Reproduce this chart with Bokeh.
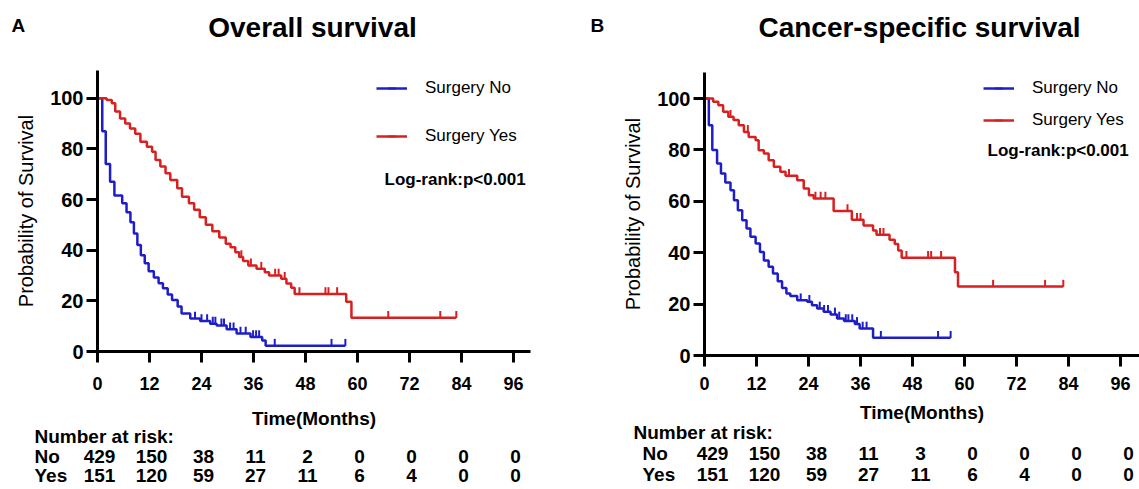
import numpy as np
from bokeh.plotting import figure
from bokeh.models import Range1d, FixedTicker, Legend, LegendItem, Label
from bokeh.layouts import row
from bokeh.embed import file_html
from bokeh.resources import INLINE
from bokeh.core.properties import value

FONT = "Liberation Sans"
BLUE = "#1e1ec8"
RED = "#d82020"
PXM = 52 / 12  # pixels per month

# ---------------- data ----------------
risk_times = [0, 12, 24, 36, 48, 60, 72, 84, 96]
y_ticks = [0, 20, 40, 60, 80, 100]

# Overall survival, Surgery No
os_no_t = [0, 1.1, 1.9, 2.9, 3.9, 5.7, 6.7, 7.6, 8.4, 9.2, 10.0, 10.9, 11.8, 13.0, 14.1,
           15.1, 16.2, 17.2, 18.5, 19.4, 21.4, 23.7, 26.0, 27.5, 29.8, 32.1, 35.3, 38.0, 38.8]
os_no_s = [100, 87, 74, 67, 61.6, 58.5, 55, 51, 46.6, 42, 38, 34.8, 31.7, 29.2, 26.9,
           25, 22.5, 20.3, 17.8, 15, 13, 12, 11, 10.3, 8.8, 7.1, 5.7, 4.3, 2.3]
os_no_end = 57.2
os_no_cens = [22.5, 24.0, 25.3, 26.6, 27.2, 28.6, 29.2, 30.6, 31.4, 33.0, 34.2, 35.9,
              36.6, 37.3, 40.9, 54.0, 57.2]

# Overall survival, Surgery Yes
os_yes_t = [0, 2.1, 3.3, 4.1, 5.2, 6.4, 7.5, 8.7, 9.9, 11.4, 12.6, 13.4, 14.5, 15.7, 16.8,
            18.4, 19.5, 21.1, 22.3, 23.6, 25.0, 26.5, 28.1, 29.6, 30.7, 31.8, 32.7, 33.6,
            34.8, 36.7, 38.6, 39.6, 42.4, 43.6, 44.7, 45.5, 57.4, 58.6]
os_yes_s = [100, 99.3, 98, 94.7, 92, 90, 88, 86, 82.8, 80.8, 78.9, 75.6, 73, 70.4, 67.7,
            64.4, 61.1, 58.5, 56, 53, 50, 47.5, 45, 42.5, 41.2, 39.2, 37.3, 35.7,
            34, 32.7, 31.3, 30, 28.7, 26.8, 25.2, 22.7, 19.6, 13.3]
os_yes_end = 82.8
os_yes_cens = [33.2, 35.4, 37.8, 41.0, 41.8, 43.2, 46.6, 52.6, 53.3, 55.3, 67.1, 79.1, 82.8]

# Cancer-specific survival, Surgery No
css_no_t = [0, 1.0, 1.8, 2.9, 3.8, 4.8, 6.0, 6.8, 7.7, 8.7, 9.7, 10.6, 11.8, 12.8, 13.7,
            14.8, 15.8, 16.9, 17.9, 18.9, 19.8, 21.4, 23.7, 24.8, 26.0, 27.5, 29.1, 30.6,
            32.2, 34.7, 35.8, 38.9]
css_no_s = [100, 89.6, 80, 74.7, 70.8, 67.3, 64.3, 60.4, 56.5, 52.6, 49.4, 46.2, 43.6, 40.3, 37,
            34.5, 31.9, 28.9, 26.3, 24.1, 23.2, 21.5, 20.9, 19.6, 18.3, 17, 16, 14.4,
            13.4, 12.3, 10.5, 6.9]
css_no_end = 56.8
css_no_cens = [22.2, 24.2, 26.6, 27.6, 28.5, 30.1, 31.1, 32.6, 33.2, 34.1, 35.2, 36.5,
               37.4, 40.7, 53.9, 56.8]

# Cancer-specific survival, Surgery Yes
css_yes_t = [0, 2.0, 3.2, 4.3, 5.5, 6.7, 7.9, 9.1, 10.2, 11.8, 12.5, 13.7, 14.8, 16.0, 17.5,
             18.7, 21.4, 22.9, 24.1, 25.2, 29.8, 34.0, 36.7, 38.9, 39.7, 42.7, 43.9, 44.7,
             45.5, 57.8, 58.5]
css_yes_s = [100, 98.7, 97.4, 94.8, 92.9, 91.6, 89.6, 87, 85, 83.8, 79.9, 78.6, 76, 73.4, 71.5,
             69.9, 68.2, 65, 62.4, 61.1, 56.2, 52.8, 50.6, 48.6, 47, 45, 43.4, 40.9,
             38, 32.4, 26.8]
css_yes_end = 82.8
css_yes_cens = [6.0, 10.0, 19.5, 25.6, 26.8, 27.9, 33.0, 35.2, 36.0, 40.5, 41.3, 46.6,
                51.6, 52.3, 54.6, 66.6, 78.6, 82.8]

os_no_risk = [429, 150, 38, 11, 2, 0, 0, 0, 0]
os_yes_risk = [151, 120, 59, 27, 11, 6, 4, 0, 0]
css_no_risk = [429, 150, 38, 11, 3, 0, 0, 0, 0]
css_yes_risk = [151, 120, 59, 27, 11, 6, 4, 0, 0]


def step_xy(t, s, end):
    return list(t) + [end], list(s) + [s[-1]]


def surv_at(t, s, q):
    idx = np.searchsorted(np.asarray(t), np.asarray(q), side="right") - 1
    return np.asarray(s, dtype=float)[idx]


def make_panel(letter, title, series, risks, c):
    W, H = c["W"], c["H"]
    x0, y0, ppu = c["x0"], c["y0"], c["ppu"]   # screen px of t=0, of S=0; px per S unit
    X = lambda px: (px - x0) / PXM
    Y = lambda py: (y0 - py) / ppu

    p = figure(width=W, height=H, x_range=Range1d(X(0), X(W)), y_range=Range1d(Y(H), Y(0)),
               min_border=0, toolbar_location=None, output_backend="svg",
               outline_line_color=None)
    p.grid.visible = False

    # axes crossing at the origin, limited to the plotted region
    p.xaxis.fixed_location = 0
    p.yaxis.fixed_location = 0
    p.xaxis.bounds = (0, c["x_max"])
    p.yaxis.bounds = (0, c["y_max"])
    p.xaxis.ticker = FixedTicker(ticks=risk_times)
    p.yaxis.ticker = FixedTicker(ticks=y_ticks)
    for ax in p.axis:
        ax.axis_line_width = 3
        ax.axis_line_color = "black"
        ax.major_tick_line_width = 3
        ax.major_tick_line_color = "black"
        ax.major_tick_out = 11
        ax.major_tick_in = 0
        ax.minor_tick_line_color = None
        ax.major_label_text_font = FONT
        ax.major_label_text_font_style = "bold"
        ax.major_label_text_color = "black"
        ax.axis_label_text_font = FONT
        ax.axis_label_text_color = "black"
    p.xaxis.major_label_text_font_size = "18px"
    p.yaxis.major_label_text_font_size = "20px"
    p.xaxis.major_label_standoff = c["xtick_standoff"]
    p.yaxis.major_label_standoff = 3
    p.xaxis.axis_label = "Time(Months)"
    p.xaxis.axis_label_text_font_style = "bold"
    p.xaxis.axis_label_text_font_size = "19px"
    p.xaxis.axis_label_standoff = c["xlabel_standoff"]
    p.yaxis.axis_label = "Probability of Survival"
    p.yaxis.axis_label_text_font_style = "normal"
    p.yaxis.axis_label_text_font_size = "20px"
    p.yaxis.axis_label_standoff = c["ylabel_standoff"]

    # curves with censor ticks
    items = []
    up = 3.3 / ppu
    for name, (t, s, end, cens), color in zip(["Surgery No", "Surgery Yes"], series, [BLUE, RED]):
        x, y = step_xy(t, s, end)
        r = p.step(x, y, mode="after", line_color=color, line_width=2.5)
        cy = surv_at(t, s, cens) + up
        m = p.scatter(cens, cy, marker="dash", angle=np.pi / 2, size=7,
                      line_color=color, line_width=2)
        items.append(LegendItem(label=name, renderers=[r, m]))

    leg = Legend(items=items, location=c["legend_loc"], orientation="vertical",
                 spacing=c["legend_spacing"], padding=0, margin=0,
                 border_line_color=None, background_fill_alpha=0,
                 glyph_width=31, glyph_height=20, label_height=20, label_standoff=18,
                 label_text_font=FONT, label_text_font_size="17px",
                 label_text_color="black")
    p.add_layout(leg)
    lx, ly = c["logrank"]
    p.add_layout(Label(x=X(lx), y=Y(ly), text="Log-rank:p<0.001",
                       text_font=FONT, text_font_style="bold", text_font_size="17px",
                       text_baseline="middle", text_color="black"))

    # header
    p.text(x=[X(c["letter"][0])], y=[Y(c["letter"][1])], text=[letter],
           text_font=value(FONT), text_font_style="bold", text_font_size="19px",
           text_align="left", text_baseline="middle", text_color="black")
    p.text(x=[X(c["title"][0])], y=[Y(c["title"][1])], text=[title],
           text_font=value(FONT), text_font_style="bold", text_font_size="28px",
           text_align="center", text_baseline="middle", text_color="black")

    # number-at-risk table
    common = dict(text_font=value(FONT), text_font_style="bold", text_font_size="19px",
                  text_baseline="middle", text_color="black")
    hx, hy = c["head"]
    p.text(x=[X(hx)], y=[Y(hy)], text=["Number at risk:"], text_align="left", **common)
    rx = c["rowlab_x"]
    rows_y = c["rows_y"]
    p.text(x=[X(rx)] * 2, y=[Y(rows_y[0]), Y(rows_y[1])], text=["No", "Yes"],
           text_align="left", **common)
    for k, rk in enumerate(risks):
        p.text(x=risk_times, y=[Y(rows_y[k])] * len(risk_times),
               text=[str(v) for v in rk], text_align="center",
               x_offset=c["num_off"], **common)
    return p


cfgA = dict(W=580, H=489, x0=97, y0=351, ppu=2.533, x_max=100, y_max=111,
            xtick_standoff=14, xlabel_standoff=15, ylabel_standoff=10,
            legend_loc=(376, 343), legend_spacing=28, logrank=(384, 179),
            letter=(11, 25), title=(312, 27),
            head=(34, 436), rowlab_x=34, rows_y=[456, 475], num_off=2)
cfgB = dict(W=559, H=489, x0=124, y0=355, ppu=2.57, x_max=100.4, y_max=110,
            xtick_standoff=10, xlabel_standoff=9, ylabel_standoff=10,
            legend_loc=(403, 359), legend_spacing=12, logrank=(407, 150),
            letter=(10, 25), title=(339, 27),
            head=(53, 432), rowlab_x=62, rows_y=[453, 474], num_off=8)

pA = make_panel("A", "Overall survival",
                [(os_no_t, os_no_s, os_no_end, os_no_cens),
                 (os_yes_t, os_yes_s, os_yes_end, os_yes_cens)],
                [os_no_risk, os_yes_risk], cfgA)
pB = make_panel("B", "Cancer-specific survival",
                [(css_no_t, css_no_s, css_no_end, css_no_cens),
                 (css_yes_t, css_yes_s, css_yes_end, css_yes_cens)],
                [css_no_risk, css_yes_risk], cfgB)

layout = row(pA, pB)
open("out.html", "w").write(file_html(layout, INLINE))
